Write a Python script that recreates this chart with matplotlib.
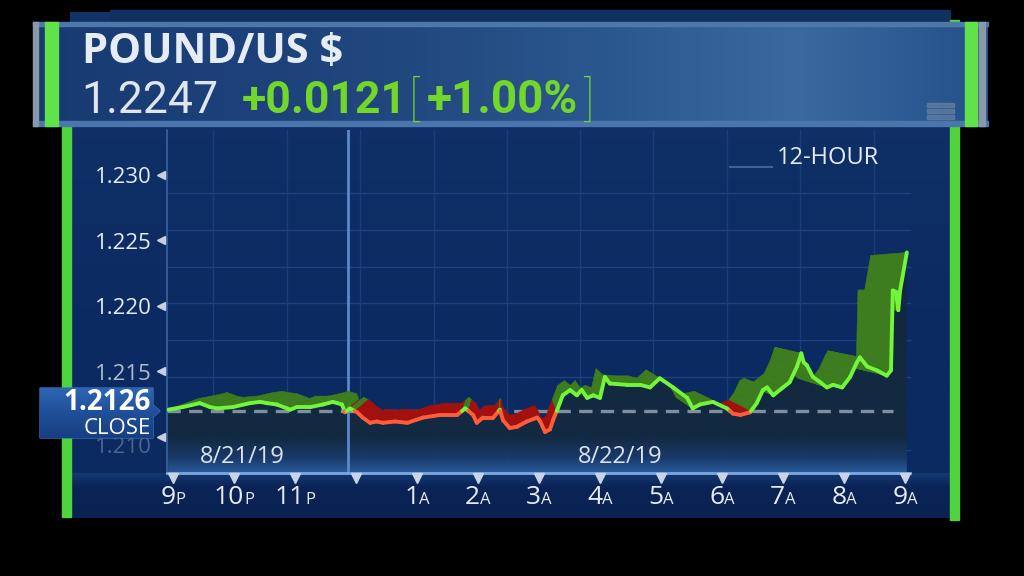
import numpy as np
import matplotlib.pyplot as plt
from matplotlib import transforms
from matplotlib.patches import Rectangle, Polygon
from matplotlib.collections import LineCollection, PolyCollection
from matplotlib.offsetbox import TextArea, HPacker, AnnotationBbox
from matplotlib.colors import to_rgb

plt.rcParams["font.family"] = ["Open Sans", "DejaVu Sans"]

# =========================
# data
# =========================
TITLE = "POUND/US $"
LAST = "1.2247"
CHANGE = "+0.0121"
PCT = "+1.00%"
RANGE_LABEL = "12-HOUR"
CLOSE = 1.2126

# hours after 9 PM (8/21/19)
HOURS = [-0.08, 0.16, 0.44, 0.61, 0.72, 0.98, 1.26, 1.43, 1.54, 1.70, 1.87, 1.92,
         2.03, 2.25, 2.46, 2.62, 2.77, 2.82, 2.90, 3.02, 3.11, 3.23, 3.34, 3.44,
         3.64, 3.84, 4.10, 4.38, 4.66, 4.79, 4.92, 4.98, 5.08, 5.25, 5.36, 5.41,
         5.52, 5.64, 5.80, 5.97, 6.02, 6.10, 6.18, 6.23, 6.30, 6.39, 6.51, 6.62,
         6.70, 6.79, 6.89, 7.00, 7.08, 7.16, 7.44, 7.66, 7.82, 7.98, 8.20, 8.43,
         8.52, 8.64, 8.85, 9.08, 9.18, 9.30, 9.46, 9.57, 9.67, 9.74, 9.84, 10.00,
         10.11, 10.23, 10.30, 10.34, 10.39, 10.49, 10.61, 10.72, 10.82, 10.97,
         11.10, 11.21, 11.26, 11.38, 11.54, 11.70, 11.77, 11.80, 11.85, 11.89,
         11.92, 12.03]
PRICES = [1.2127, 1.2129, 1.2132, 1.2129, 1.2128, 1.2129, 1.2132, 1.2133, 1.2132,
          1.2131, 1.2128, 1.2127, 1.2129, 1.2129, 1.2131, 1.2133, 1.2131, 1.2125,
          1.2128, 1.2125, 1.2121, 1.2117, 1.2118, 1.2117, 1.2118, 1.2117, 1.2121,
          1.2123, 1.2123, 1.2128, 1.2123, 1.2117, 1.2121, 1.2121, 1.2127, 1.2119,
          1.2113, 1.2114, 1.2118, 1.2121, 1.2118, 1.2110, 1.2112, 1.2119, 1.2127,
          1.2138, 1.2142, 1.2138, 1.2142, 1.2136, 1.2138, 1.2136, 1.2152, 1.2147,
          1.2146, 1.2146, 1.2144, 1.2151, 1.2144, 1.2136, 1.2128, 1.2131, 1.2133,
          1.2128, 1.2124, 1.2123, 1.2125, 1.2132, 1.2142, 1.2144, 1.2138, 1.2144,
          1.2148, 1.2160, 1.2170, 1.2163, 1.2161, 1.2152, 1.2148, 1.2144, 1.2146,
          1.2144, 1.2152, 1.2163, 1.2167, 1.2160, 1.2157, 1.2153, 1.2157, 1.2218,
          1.2217, 1.2203, 1.2218, 1.2247]

Y_TICKS = [1.210, 1.215, 1.220, 1.225, 1.230]
X_TICKS = list(range(13))
X_NUMS = ["9", "10", "11", "", "1", "2", "3", "4", "5", "6", "7", "8", "9"]
X_SUFFIX = ["P", "P", "P", "", "A", "A", "A", "A", "A", "A", "A", "A", "A"]
DATES = ["8/21/19", "8/22/19"]

# =========================
# styles
# =========================
GREEN_LINE = "#72f53a"
RED_LINE = "#ff5c3a"
GREEN_FACE = "#3d7c1f"
RED_FACE = "#a3110f"
TEXT = "#e6ecf4"
GREEN_TEXT = "#72d62b"
XLIM = (-0.098, 12.082)
YLIM = (1.20787, 1.23405)
VANISH = (5.46, 1.22222)   # perspective point of the 3d ribbon
DEPTH = 0.09
NARROW = ["Roboto", "DejaVu Sans"]


def gradient(axis, x0, x1, top, bottom, colors, stops=None, horizontal=False, z=1, alpha=1.0):
    cols = np.array([to_rgb(c) for c in colors])
    if stops is None:
        stops = np.linspace(0, 1, len(cols))
    t = np.linspace(0, 1, 256)
    rgb = np.stack([np.interp(t, stops, cols[:, i]) for i in range(3)], axis=-1)
    img = rgb[None, :, :] if horizontal else rgb[:, None, :]
    return axis.imshow(img, extent=(x0, x1, bottom, top), origin="upper", aspect="auto",
                       interpolation="bilinear", zorder=z, alpha=alpha)


def split_at(xs, ys, level):
    px, py = [xs[0]], [ys[0]]
    for i in range(1, len(xs)):
        y0, y1 = ys[i - 1], ys[i]
        if (y0 - level) * (y1 - level) < 0:
            t = (level - y0) / (y1 - y0)
            px.append(xs[i - 1] + t * (xs[i] - xs[i - 1]))
            py.append(level)
        px.append(xs[i])
        py.append(ys[i])
    return np.array(px), np.array(py)


fig = plt.figure(figsize=(10.24, 5.76), dpi=100, facecolor="black")

# =========================
# background panel (pixel coords)
# =========================
bg = fig.add_axes([0, 0, 1, 1], zorder=0)
bg.axis("off")

gradient(bg, 70, 950, 12, 518, ["#123468", "#0e2e66", "#0c2a62", "#0b2a60"], z=0)
bg.add_patch(Rectangle((110, 10), 840, 14, color="#10305e", zorder=0.5))
# below the x axis
gradient(bg, 71, 950, 473, 518, ["#133a74", "#0b2457", "#0a2152"], stops=[0, 0.3, 1], z=0.6)

# faint grid
for gy in [193, 230, 267, 303, 340, 377, 450]:
    bg.plot([167, 910], [gy, gy], color="#1d427f", lw=1, zorder=0.7)
for gx in [213, 287, 360, 434, 507, 580, 653, 727, 800, 874]:
    bg.plot([gx, gx], [130, 473], color="#1a3e7a", lw=1, zorder=0.7)

# green side bars
bg.add_patch(Rectangle((62, 125), 9, 392, color="#4fd43f", zorder=1))
bg.add_patch(Rectangle((950, 20), 9, 500, color="#4fd43f", zorder=1))

# header box
gradient(bg, 33, 988, 22, 126, ["#173a71", "#1c4079", "#22497f", "#2b578f", "#3a699f", "#25508a"],
         horizontal=True, z=2)
bg.add_patch(Rectangle((33, 22), 955, 4, color="#4f78aa", zorder=2.5))
bg.add_patch(Rectangle((33, 121), 955, 5, color="#4a76ad", zorder=2.5))
bg.add_patch(Rectangle((33, 22), 5, 104, color="#8b98a7", zorder=2.6))
bg.add_patch(Rectangle((45, 22), 13, 104, color="#5fe24a", zorder=2.6))
bg.add_patch(Rectangle((965, 22), 12, 104, color="#5fe24a", zorder=2.6))
bg.add_patch(Rectangle((979, 22), 6, 104, color="#8b98a7", zorder=2.6))
for iy in [103, 109, 115]:
    bg.add_patch(Rectangle((927, iy), 27, 4, color="#6f86a6", alpha=0.6, zorder=2.7))

bg.text(82, 63, TITLE, color=TEXT, fontsize=30, fontweight="bold", va="baseline", zorder=3)
bg.text(81, 113, LAST, color="#dfe5ec", fontsize=32, family=NARROW, va="baseline", zorder=3)
bg.text(242, 113, CHANGE, color=GREEN_TEXT, fontsize=32, fontweight="bold", family=NARROW,
        va="baseline", zorder=3)
bg.text(409, 115, "[", color=GREEN_TEXT, fontsize=35, fontweight="light", family=NARROW,
        va="baseline", zorder=3)
bg.text(427, 113, PCT, color=GREEN_TEXT, fontsize=33, fontweight="bold", family=NARROW,
        va="baseline", zorder=3)
bg.text(583, 115, "]", color=GREEN_TEXT, fontsize=35, fontweight="light", family=NARROW,
        va="baseline", zorder=3)

bg.plot([730, 772], [167, 167], color="#3e6291", lw=1.5, zorder=3)
bg.text(777, 158, RANGE_LABEL, color=TEXT, fontsize=17, va="center", zorder=3)

bg.set_xlim(0, 1024)
bg.set_ylim(576, 0)

# =========================
# price chart
# =========================
ax = fig.add_axes([167 / 1024, 103 / 576, 743 / 1024, 343 / 576], zorder=2)
ax.set_facecolor("none")

xs, ys = split_at(np.array(HOURS), np.array(PRICES), CLOSE)

# shadow under the line
shadow = Polygon(np.column_stack([np.r_[xs, xs[-1], xs[0]], np.r_[ys, YLIM[0], YLIM[0]]]),
                 closed=True, facecolor="none", edgecolor="none")
ax.add_patch(shadow)
sh = gradient(ax, xs[0], xs[-1], max(PRICES), YLIM[0],
              ["#13283b", "#132a40", "#1a3b68", "#2b5d9e"], stops=[0, 0.84, 0.93, 1.0],
              z=1, alpha=0.93)
sh.set_clip_path(shadow)

# previous close
ax.plot([XLIM[0], 11.8], [CLOSE, CLOSE], color="#808e9e", lw=2.4, dashes=(4, 2.5), zorder=2)

# 3d ribbon behind the line
bx = VANISH[0] + (xs - VANISH[0]) * (1 - DEPTH)
by = VANISH[1] + (ys - VANISH[1]) * (1 - DEPTH)
quads, face_cols, seg_cols = [], [], []
for i in range(len(xs) - 1):
    quads.append([(xs[i], ys[i]), (xs[i + 1], ys[i + 1]), (bx[i + 1], by[i + 1]), (bx[i], by[i])])
    up = (ys[i] + ys[i + 1]) / 2 >= CLOSE
    face_cols.append(GREEN_FACE if up else RED_FACE)
    seg_cols.append(GREEN_LINE if up else RED_LINE)
ax.add_collection(PolyCollection(quads, facecolors=face_cols, edgecolors=face_cols,
                                 linewidths=0.4, zorder=3))

segs = [[(xs[i], ys[i]), (xs[i + 1], ys[i + 1])] for i in range(len(xs) - 1)]
ax.add_collection(LineCollection(segs, colors=seg_cols, linewidths=2.8,
                                 capstyle="round", joinstyle="round", zorder=4))

# midnight divider
ax.axvline(2.87, color="#5c89c9", lw=2, zorder=1.5)

ax.set_xlim(*XLIM)
ax.set_ylim(*YLIM)

for side in ["top", "right"]:
    ax.spines[side].set_visible(False)
ax.spines["bottom"].set_color("#7fa7de")
ax.spines["bottom"].set_linewidth(2)
ax.spines["left"].set_color("#3a63a0")
ax.spines["left"].set_linewidth(1.2)

# y labels sit on their tick value (baseline), like the broadcast graphic
ax.set_yticks(Y_TICKS)
ax.set_yticklabels([f"{t:.3f}" for t in Y_TICKS])
ax.tick_params(axis="y", length=0, pad=11, labelcolor=TEXT, labelsize=16)
for lbl in ax.get_yticklabels()[1:]:
    lbl.set_va("baseline")
ax.get_yticklabels()[0].set_alpha(0.3)   # mostly hidden behind the close tag
ax.get_yticklabels()[1].set_alpha(0.75)
marker_tr = transforms.offset_copy(ax.get_yaxis_transform(), fig=fig, y=6, units="points")
ax.plot([-0.008] * len(Y_TICKS), Y_TICKS, transform=marker_tr, marker="<",
        ls="none", ms=6, color="#c5d1e2", clip_on=False, zorder=5)

ax.set_xticks([])
ax.plot(X_TICKS, [-0.016] * len(X_TICKS), transform=ax.get_xaxis_transform(), marker="v",
        ls="none", ms=7, color="#c8d5e6", clip_on=False, zorder=5)
for h, num, suf in zip(X_TICKS, X_NUMS, X_SUFFIX):
    if not num:
        continue
    box = HPacker(children=[TextArea(num, textprops=dict(color=TEXT, fontsize=19)),
                            TextArea(suf, textprops=dict(color=TEXT, fontsize=12))],
                  align="baseline", pad=0, sep=0)
    ab = AnnotationBbox(box, (h, -0.07), xycoords=ax.get_xaxis_transform(), frameon=False,
                        box_alignment=(0.5, 0.5), annotation_clip=False, pad=0)
    ax.add_artist(ab)

# =========================
# labels on top
# =========================
top = fig.add_axes([0, 0, 1, 1], zorder=5)
top.axis("off")
top.text(242, 457, DATES[0], color="#dbe3ee", fontsize=17, ha="center", va="center")
top.text(620, 457, DATES[1], color="#dbe3ee", fontsize=17, ha="center", va="center")

tag = Polygon([(40, 388), (153, 388), (153, 405), (160, 411), (153, 417), (153, 438), (40, 438)],
              closed=True, facecolor="none", edgecolor="#3a6cb5", lw=1)
top.add_patch(tag)
tg = gradient(top, 40, 160, 388, 438, ["#2d66b3", "#1f4f98", "#173f82"], z=1)
tg.set_clip_path(tag)
top.text(151, 402, f"{CLOSE:.4f}", color="white", fontsize=20, fontweight="bold",
         ha="right", va="center", zorder=2)
top.text(151, 428.5, "CLOSE", color="white", fontsize=16, ha="right", va="center", zorder=2)
top.set_xlim(0, 1024)
top.set_ylim(576, 0)

fig.savefig("out.png", dpi=100, facecolor="black")
